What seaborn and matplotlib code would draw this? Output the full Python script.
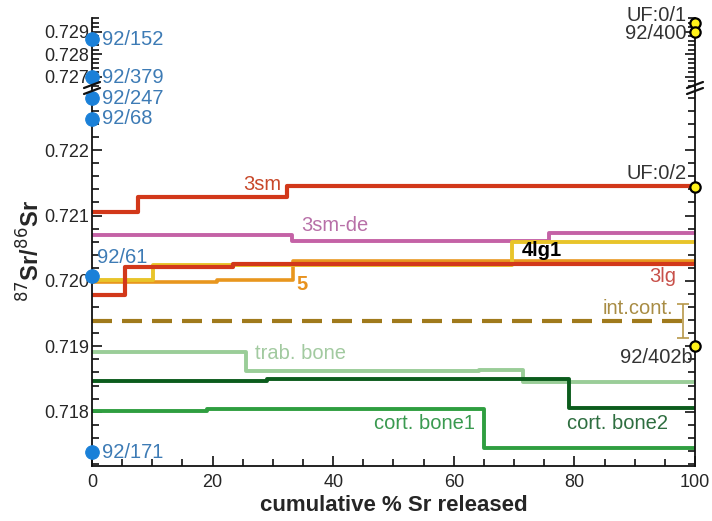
import numpy as np
import pandas as pd
import matplotlib
matplotlib.use("Agg")
import matplotlib.pyplot as plt
from matplotlib.lines import Line2D
from matplotlib.ticker import MultipleLocator, FixedLocator
import seaborn as sns

sns.set_theme(style="ticks")
plt.rcParams['font.family'] = ['Liberation Sans', 'DejaVu Sans']

# step series: breakpoints on x (cumulative % Sr released) and 87Sr/86Sr
x_3sm = [0, 7.6, 32.4, 100]
y_3sm = [0.72105, 0.72128, 0.72145, 0.72145]
x_3smde = [0, 33.2, 75.8, 100]
y_3smde = [0.72070, 0.72061, 0.72073, 0.72073]
x_4lg1 = [0, 10.1, 69.6, 100]
y_4lg1 = [0.72001, 0.72025, 0.72059, 0.72059]
x_5 = [0, 20.8, 33.3, 100]
y_5 = [0.71998, 0.72001, 0.72030, 0.72030]
x_3lg = [0, 5.5, 23.4, 100]
y_3lg = [0.71978, 0.72021, 0.72026, 0.72026]
x_trab = [0, 25.5, 64.2, 71.5, 100]
y_trab = [0.71892, 0.71862, 0.71864, 0.71845, 0.71845]
x_cort2 = [0, 29, 79.1, 100]
y_cort2 = [0.71847, 0.71850, 0.71805, 0.71805]
x_cort1 = [0, 19, 65, 100]
y_cort1 = [0.71801, 0.71804, 0.71744, 0.71744]

# internal contamination level
x_intcont = [0, 98.5]
y_intcont = [0.71939, 0.71939]
intcont_err = 0.00026

# single samples on the left (blue) and right (yellow) axis
blue_names = ['92/152', '92/379', '92/247', '92/68', '92/61', '92/171']
blue_vals = [0.72866, 0.72697, 0.72279, 0.72248, 0.72008, 0.71738]
yel_names = ['UF:0/1', '92/400', 'UF:0/2', '92/402b']
yel_vals = [0.72940, 0.72900, 0.72143, 0.71901]

top_lim = (0.72650, 0.72961)
low_lim = (0.71717, 0.72295)

red = '#d2381a'
fig = plt.figure(figsize=(7.12, 5.21), dpi=100)
ax_top = fig.add_axes([0.1292, 0.8311, 0.8469, 0.1344])
ax = fig.add_axes([0.1292, 0.1056, 0.8469, 0.7255])

def steps(xs, ys, color, lw=3.0, **kw):
    df = pd.DataFrame({'x': xs, 'y': ys})
    sns.lineplot(data=df, x='x', y='y', ax=ax, color=color, lw=lw,
                 drawstyle='steps-post', estimator=None, **kw)

steps(x_3smde, y_3smde, '#c462a6', lw=2.8)
steps(x_3sm, y_3sm, red)
steps(x_5, y_5, '#e8961e', lw=2.6)
steps(x_4lg1, y_4lg1, '#e8c42a', lw=2.8)
steps(x_3lg, y_3lg, red)
steps(x_trab, y_trab, '#9acd98', lw=2.8)
steps(x_cort2, y_cort2, '#0b5c1c', lw=2.8)
steps(x_cort1, y_cort1, '#2f9e40', lw=2.8)
sns.lineplot(x=x_intcont, y=y_intcont, ax=ax, color='#a07a1c', lw=3.0,
             linestyle=(0, (4.8, 2.4)))
ax.errorbar([98], [y_intcont[0]], yerr=intcont_err, color='#b8984a',
            lw=1.2, capsize=4, capthick=1.2)

# blue points at x=0, split over both axes
for a, lim in ((ax_top, top_lim), (ax, low_lim)):
    sel = [(n, v) for n, v in zip(blue_names, blue_vals) if lim[0] <= v <= lim[1]]
    sns.scatterplot(x=[0] * len(sel), y=[v for _, v in sel], ax=a, s=95,
                    color='#1a80d8', edgecolor='#1a80d8', zorder=10, clip_on=False)
    sel = [(n, v) for n, v in zip(yel_names, yel_vals) if lim[0] <= v <= lim[1]]
    sns.scatterplot(x=[100] * len(sel), y=[v for _, v in sel], ax=a, s=55,
                    color='#fff21a', edgecolor='black', linewidth=1.6,
                    zorder=10, clip_on=False)

blue_txt = '#3d7bb5'
tfs = 14.5
for n, v in zip(blue_names, blue_vals):
    if n == '92/61':
        ax.text(5, 0.72036, n, color=blue_txt, fontsize=tfs, ha='center', va='center')
        continue
    a = ax_top if v > low_lim[1] else ax
    a.text(1.7, v, n, color=blue_txt, fontsize=tfs, ha='left', va='center')

dark = '#333333'
ax_top.text(98.6, 0.72971, 'UF:0/1', color=dark, fontsize=tfs, ha='right', va='center')
ax_top.text(98.6, 0.72894, '92/400', color=dark, fontsize=tfs, ha='right', va='center')
ax.text(98.6, 0.72164, 'UF:0/2', color=dark, fontsize=tfs, ha='right', va='center')
ax.text(99.6, 0.71883, '92/402b', color=dark, fontsize=tfs, ha='right', va='center')

ax.text(28.2, 0.72148, '3sm', color='#c8482a', fontsize=tfs, ha='center', va='center')
ax.text(40.3, 0.72084, '3sm-de', color='#b870a8', fontsize=tfs, ha='center', va='center')
ax.text(74.6, 0.72047, '4lg1', color='black', fontsize=tfs, fontweight='bold',
        ha='center', va='center')
ax.text(34.8, 0.71995, '5', color='#e8921e', fontsize=tfs, fontweight='bold',
        ha='center', va='center')
ax.text(94.7, 0.72006, '3lg', color='#c8504a', fontsize=tfs, ha='center', va='center')
ax.text(90.5, 0.71958, 'int.cont.', color='#a88c44', fontsize=tfs, ha='center', va='center')
ax.text(34.5, 0.71889, 'trab. bone', color='#a2caa0', fontsize=tfs, ha='center', va='center')
ax.text(55.2, 0.71782, 'cort. bone1', color='#3a9a50', fontsize=tfs, ha='center', va='center')
ax.text(87.2, 0.71782, 'cort. bone2', color='#2e6e40', fontsize=tfs, ha='center', va='center')

# axes cosmetics
for a in (ax_top, ax):
    a.set_xlim(0, 100)
    a.spines['top'].set_visible(False)
    for s in ('left', 'right', 'bottom'):
        a.spines[s].set_linewidth(1.3)
        a.spines[s].set_color('#111111')
    a.yaxis.set_minor_locator(MultipleLocator(0.0002))
    a.tick_params(axis='y', which='both', direction='in', left=True, right=True,
                  labelright=False, labelsize=13, pad=2, color='#111111', width=1.2)
    a.tick_params(axis='y', which='major', length=7)
    a.tick_params(axis='y', which='minor', length=5)
    a.set_ylabel('')
    a.set_xlabel('')

ax_top.set_ylim(*top_lim)
ax_top.spines['bottom'].set_visible(False)
ax_top.yaxis.set_major_locator(FixedLocator([0.727, 0.728, 0.729]))
ax_top.set_yticklabels(['0.727', '0.728', '0.729'])
ax_top.tick_params(axis='x', which='both', bottom=False, labelbottom=False)

ax.set_ylim(*low_lim)
ax.yaxis.set_major_locator(FixedLocator([0.718, 0.719, 0.720, 0.721, 0.722]))
ax.set_yticklabels(['0.718', '0.719', '0.720', '0.721', '0.722'])
ax.xaxis.set_major_locator(MultipleLocator(20))
ax.xaxis.set_minor_locator(MultipleLocator(5))
ax.tick_params(axis='x', which='both', direction='in', bottom=True, labelsize=13,
               pad=6, color='#111111', width=1.2)
ax.tick_params(axis='x', which='major', length=7)
ax.tick_params(axis='x', which='minor', length=5)
ax.set_xlabel('cumulative % Sr released', fontsize=16, fontweight='bold', labelpad=3)
ax.set_ylabel(r'$^{87}$Sr/$^{86}$Sr', fontsize=17, fontweight='bold')
ax.yaxis.set_label_coords(-0.078, 0.57)

# axis break marks on both spines
W, H = 712, 521
for px in (92, 695):
    for py in (85, 91):
        fig.add_artist(Line2D([(px - 8) / W, (px + 8) / W],
                              [1 - (py + 3) / H, 1 - (py - 3) / H],
                              color='#111111', lw=1.6))

fig.savefig('out.png', dpi=100)
